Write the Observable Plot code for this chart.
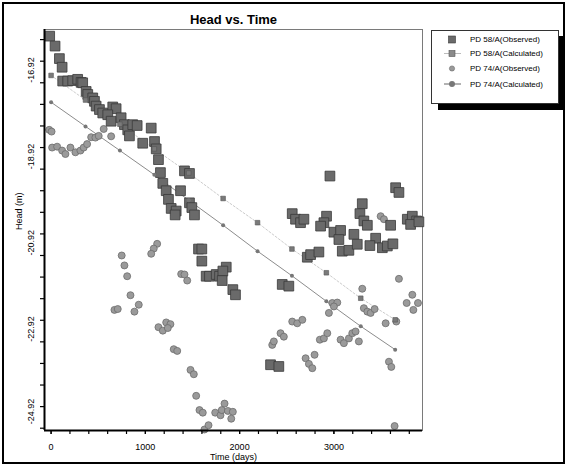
<!DOCTYPE html>
<html><head><meta charset="utf-8">
<script src="https://cdn.jsdelivr.net/npm/d3@7"></script>
<script src="https://cdn.jsdelivr.net/npm/@observablehq/plot@0.6"></script>
<style>body{margin:0;background:#fff}#c{width:567px;height:466px}</style>
</head><body><div id="c"></div>
<script>
// ---- data ----
const seriesNames = ["PD 58/A(Observed)", "PD 58/A(Calculated)", "PD 74/A(Observed)", "PD 74/A(Calculated)"];

const obs58Days = [-15,42,88,117,123,176,229,282,318,335,372,389,442,460,478,513,548,654,690,601,637,743,778,813,831,866,913,1062,972,1097,1115,1139,1160,1415,1468,1185,1221,1373,1245,1274,1327,1316,1468,1493,1521,1564,1599,1599,1645,1680,1752,1787,1858,1822,1815,1928,1956,2958,3655,3690,3301,2558,2593,2646,2682,2922,2894,2859,3276,3318,3355,3602,3779,3832,3878,3814,3902,3000,3071,3053,3212,3089,3159,3248,3443,3382,3514,3567,3626,2718,2753,2841,2452,2522,2328,2416];
const obs58Head = [-15.84,-16.07,-16.36,-16.56,-16.88,-16.88,-16.87,-16.84,-16.91,-16.92,-17.12,-17.19,-17.27,-17.35,-17.46,-17.54,-17.62,-17.48,-17.52,-17.66,-17.81,-17.73,-17.89,-18.01,-18.15,-17.89,-17.91,-17.97,-18.32,-18.28,-18.45,-18.70,-19.00,-18.96,-19.02,-19.25,-19.42,-19.42,-19.62,-19.83,-19.89,-19.98,-19.70,-19.81,-19.98,-20.77,-20.77,-21.05,-21.40,-21.40,-21.36,-21.40,-21.19,-21.28,-21.50,-21.71,-21.83,-19.08,-19.35,-19.46,-19.72,-19.95,-20.08,-20.16,-20.08,-20.01,-20.16,-20.24,-19.95,-20.12,-20.22,-20.22,-20.08,-20.01,-20.12,-20.20,-20.14,-20.38,-20.34,-20.55,-20.43,-20.82,-20.80,-20.66,-20.52,-20.69,-20.74,-20.70,-20.65,-20.96,-20.90,-20.84,-21.59,-21.63,-23.45,-23.49];

const obs74Days = [-20,5,11,64,117,152,205,258,311,346,382,425,470,505,558,637,1125,1089,1062,749,778,807,842,672,707,884,930,1139,1185,1221,1266,1238,1301,1338,1479,1514,1539,1574,1609,1741,1797,1840,1811,1875,1928,1911,1627,1670,1380,1415,1444,3496,3531,3690,3301,2983,3036,2947,3000,3318,3355,3390,3432,3549,3662,3832,3772,3843,3892,2558,2611,2665,2346,2363,2434,2469,2700,2735,2771,2795,2851,2894,2930,3071,3106,3159,3195,3230,3265,3584,3609,3644];
const obs74Head = [-18.01,-18.05,-18.42,-18.40,-18.49,-18.57,-18.42,-18.53,-18.49,-18.42,-18.34,-18.18,-18.19,-18.15,-17.99,-18.16,-20.65,-20.76,-20.88,-20.92,-21.15,-21.40,-21.84,-22.18,-22.16,-22.22,-22.06,-22.58,-22.66,-22.47,-22.51,-22.60,-23.09,-23.13,-23.57,-23.67,-24.17,-24.50,-24.56,-24.56,-24.62,-24.35,-24.50,-24.52,-24.54,-24.70,-24.95,-24.85,-21.35,-21.36,-21.50,-20.01,-20.08,-21.46,-21.69,-22.02,-22.01,-22.25,-22.10,-22.14,-22.22,-22.25,-22.16,-22.49,-22.45,-21.83,-22.02,-22.18,-22.02,-22.45,-22.49,-22.41,-22.99,-22.91,-22.72,-22.80,-23.30,-23.43,-23.53,-23.22,-22.87,-22.84,-22.72,-22.87,-22.95,-22.84,-22.72,-22.68,-22.91,-23.38,-23.50,-24.87];

const calcDays = [0,365,730,1095,1460,1825,2190,2555,2920,3285,3650];
const calc58Head = [-16.75,-17.32,-17.88,-18.45,-19.01,-19.60,-20.16,-20.77,-21.32,-21.91,-22.41];
const calc74Head = [-17.37,-17.93,-18.49,-19.05,-19.64,-20.22,-20.82,-21.39,-21.98,-22.56,-23.10];

const xTickLabels = [0, 1000, 2000, 3000];
const yTickLabels = [-16.92, -18.92, -20.92, -22.92, -24.92];

// ---- tables ----
const zip = (xs, ys) => xs.map((x, i) => ({day: x, head: ys[i]}));
const obs58 = zip(obs58Days, obs58Head);
const obs74 = zip(obs74Days, obs74Head);
const calc58 = zip(calcDays, calc58Head);
const calc74 = zip(calcDays, calc74Head);

const xDomain = [-70, 3940];
const yDomain = [-24.973, -15.686];
const xMinor = d3.range(0, 3900, 200);
const yMinor = d3.range(-15.92, -25, -0.5);

const font = "Liberation Sans, Arial, sans-serif";

const chart = Plot.plot({
  width: 567, height: 466,
  marginLeft: 44, marginRight: 145, marginTop: 29, marginBottom: 36,
  style: {fontFamily: font, fontSize: "9px", background: "#fff", color: "#000"},
  x: {domain: xDomain},
  y: {domain: yDomain},
  marks: [
    Plot.frame({stroke: "#7a7a7a", strokeWidth: 1}),
    Plot.line(calc58, {x: "day", y: "head", stroke: "#cccccc", strokeWidth: 1, strokeDasharray: "2,2"}),
    Plot.line(calc74, {x: "day", y: "head", stroke: "#8c8c8c", strokeWidth: 1}),
    Plot.dot(obs74, {x: "day", y: "head", r: 3.5, fill: "#9a9a9a", stroke: "#6c6c6c", strokeWidth: 0.8}),
    Plot.dot(obs58, {x: "day", y: "head", symbol: "square", r: 5.5, fill: "#6a6a6a", stroke: "#3a3a3a", strokeWidth: 0.8}),
    Plot.dot(calc58, {x: "day", y: "head", symbol: "square", r: 2.6, fill: "#7a7a7a", stroke: "#555", strokeWidth: 0.6}),
    Plot.dot(calc74, {x: "day", y: "head", r: 2, fill: "#777"}),
    Plot.axisX({ticks: xMinor, tickSize: 4, tickFormat: () => "", label: null, strokeWidth: 1.2}),
    Plot.axisX({ticks: xTickLabels, tickSize: 4, tickPadding: 9, tickFormat: d => String(d), label: null, fontSize: 9, strokeWidth: 1.2}),
    Plot.axisY({ticks: yMinor, tickSize: 4, tickFormat: () => "", label: null, strokeWidth: 1.2}),
    Plot.text(yTickLabels.slice(0, 4), {y: d => d, text: d => d.toFixed(2), frameAnchor: "left", dx: -13, rotate: -90, fontSize: 9}),
    Plot.text(yTickLabels.slice(4), {y: d => d, text: d => d.toFixed(2), frameAnchor: "left", dx: -13, dy: -4, rotate: -90, textAnchor: "start", fontSize: 9}),
    Plot.ruleX([xDomain[0]], {stroke: "#000", strokeWidth: 2}),
    Plot.ruleY([yDomain[0]], {stroke: "#000", strokeWidth: 2}),
    Plot.text(["Head vs. Time"], {frameAnchor: "top", dy: -10, lineAnchor: "middle", fontWeight: "bold", fontSize: 13}),
    Plot.text(["Time (days)"], {frameAnchor: "bottom", dy: 27, lineAnchor: "middle", fontSize: 9}),
    Plot.text(["Head (m)"], {frameAnchor: "left", dx: -25, rotate: -90, lineAnchor: "middle", fontSize: 9})
  ]
});
document.getElementById("c").appendChild(chart);

// ---- legend and outer border ----
const svg = d3.select(chart);
svg.append("rect").attr("x", 3).attr("y", 3).attr("width", 561).attr("height", 460)
  .attr("fill", "none").attr("stroke", "#000").attr("stroke-width", 2);
const lg = svg.append("g").attr("text-anchor", "start");
lg.append("rect").attr("x", 438).attr("y", 36).attr("width", 127).attr("height", 74).attr("fill", "#000");
lg.append("rect").attr("x", 431.5).attr("y", 30.5).attr("width", 127).attr("height", 73)
  .attr("fill", "#fff").attr("stroke", "#333").attr("stroke-width", 1);
const rowY = [39.5, 53.5, 68.5, 84];
seriesNames.forEach((name, i) => {
  const y = rowY[i], mx = 452;
  if (i === 1) lg.append("line").attr("x1", 444).attr("x2", 461).attr("y1", y).attr("y2", y).attr("stroke", "#bbb");
  if (i === 3) lg.append("line").attr("x1", 444).attr("x2", 461).attr("y1", y).attr("y2", y).attr("stroke", "#666");
  if (i === 0) lg.append("rect").attr("x", mx - 3.5).attr("y", y - 3.5).attr("width", 7).attr("height", 7).attr("fill", "#6a6a6a").attr("stroke", "#3a3a3a").attr("stroke-width", 0.6);
  if (i === 1) lg.append("rect").attr("x", mx - 3).attr("y", y - 3).attr("width", 6).attr("height", 6).attr("fill", "#8a8a8a").attr("stroke", "#555").attr("stroke-width", 0.6);
  if (i === 2) lg.append("circle").attr("cx", mx).attr("cy", y).attr("r", 2.6).attr("fill", "#9a9a9a").attr("stroke", "#6c6c6c").attr("stroke-width", 0.6);
  if (i === 3) lg.append("circle").attr("cx", mx).attr("cy", y).attr("r", 3).attr("fill", "#777");
  lg.append("text").attr("x", 470).attr("y", y).attr("dy", "0.35em").attr("text-anchor", "start")
    .attr("font-size", 8).attr("font-family", font).attr("fill", "#000").text(name);
});
</script>
</body></html>
